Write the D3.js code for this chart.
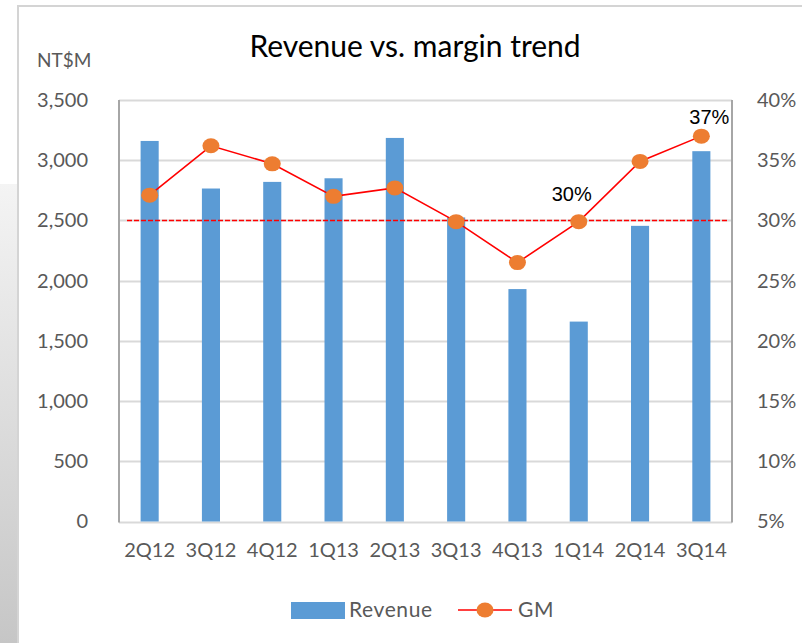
<!DOCTYPE html>
<html>
<head>
<meta charset="utf-8">
<script src="https://cdn.jsdelivr.net/npm/d3@7"></script>
<style>
  body { margin: 0; background: #fff; }
  svg { display: block; font-family: Lato, "Open Sans", sans-serif; }
</style>
</head>
<body>
<div id="main-chart"></div>
<script>
const quarters = ["2Q12", "3Q12", "4Q12", "1Q13", "2Q13", "3Q13", "4Q13", "1Q14", "2Q14", "3Q14"];
const revenue = [3160, 2765, 2820, 2850, 3185, 2525, 1930, 1660, 2455, 3075];
const gm = [32.1, 36.2, 34.7, 32.0, 32.7, 29.9, 26.5, 29.9, 34.9, 37.0];
const revTicks = [0, 500, 1000, 1500, 2000, 2500, 3000, 3500];
const gmTicks = [5, 10, 15, 20, 25, 30, 35, 40];
const gmLabels = [{ i: 7, text: "30%" }, { i: 9, text: "37%" }];
const gmTarget = 30;

const width = 802, height = 643;
const margin = { top: 100, right: 70, bottom: 121, left: 119 };

const svg = d3.select("#main-chart")
    .append("svg")
    .attr("width", width)
    .attr("height", height);

// grey strip on the left and chart frame
const grad = svg.append("defs").append("linearGradient")
    .attr("id", "strip").attr("x1", 0).attr("x2", 0).attr("y1", 0).attr("y2", 1);
grad.append("stop").attr("offset", "0%").attr("stop-color", "#f4f4f4");
grad.append("stop").attr("offset", "100%").attr("stop-color", "#c6c6c6");
svg.append("rect").attr("x", 0).attr("y", 184).attr("width", 17).attr("height", height - 184)
    .attr("fill", "url(#strip)");
svg.append("path")
    .attr("d", `M18,${height} V6 H${width}`)
    .attr("fill", "none").attr("stroke", "#d4d4d4").attr("stroke-width", 2);

const x = d3.scaleBand()
    .domain(quarters)
    .range([margin.left, width - margin.right])
    .paddingInner(0.705)
    .paddingOuter(0.3525);

const y = d3.scaleLinear().domain([0, 3500]).range([height - margin.bottom - 0.5, margin.top]);
const y2 = d3.scaleLinear().domain([5, 40]).range([height - margin.bottom - 0.5, margin.top]);

// gridlines
svg.append("g")
    .selectAll("line")
    .data(revTicks)
    .join("line")
    .attr("x1", margin.left).attr("x2", width - margin.right)
    .attr("y1", d => Math.round(y(d)) + 0.5).attr("y2", d => Math.round(y(d)) + 0.5)
    .attr("stroke", "#d9d9d9").attr("stroke-width", 2);

// axis lines
svg.append("line")
    .attr("x1", margin.left).attr("x2", margin.left)
    .attr("y1", margin.top).attr("y2", y(0) + 1)
    .attr("stroke", "#a6a6a6").attr("stroke-width", 2);
svg.append("line")
    .attr("x1", width - margin.right).attr("x2", width - margin.right)
    .attr("y1", margin.top).attr("y2", y(0) + 1)
    .attr("stroke", "#a6a6a6").attr("stroke-width", 2);

// axes
const leftAxis = svg.append("g")
    .attr("transform", `translate(${margin.left - 31},0)`)
    .call(d3.axisLeft(y).tickValues(revTicks).tickSize(0).tickPadding(0).tickFormat(d3.format(",")));
const rightAxis = svg.append("g")
    .attr("transform", `translate(${width - margin.right + 25},0)`)
    .call(d3.axisRight(y2).tickValues(gmTicks).tickSize(0).tickPadding(0).tickFormat(d => d + "%"));
const bottomAxis = svg.append("g")
    .attr("transform", `translate(0,${y(0) + 21})`)
    .call(d3.axisBottom(x).tickSize(0).tickPadding(0));
[leftAxis, rightAxis, bottomAxis].forEach(g => {
    g.select(".domain").remove();
    g.selectAll("text")
        .attr("fill", "#595959")
        .style("font-size", "20px")
        .style("font-family", "Lato, 'Open Sans', sans-serif");
});
bottomAxis.selectAll("text").attr("dy", "0.71em");

// bars
svg.append("g")
    .selectAll("rect")
    .data(revenue)
    .join("rect")
    .attr("x", (d, i) => x(quarters[i]))
    .attr("y", d => y(d))
    .attr("width", x.bandwidth())
    .attr("height", d => y(0) - y(d))
    .attr("fill", "#5b9bd5");

// target line
svg.append("line")
    .attr("x1", margin.left + 8).attr("x2", width - margin.right - 4)
    .attr("y1", y2(gmTarget)).attr("y2", y2(gmTarget))
    .attr("stroke", "#ff0000").attr("stroke-width", 1.6)
    .attr("stroke-dasharray", "5,2");

// GM line and markers
const cx = i => x(quarters[i]) + x.bandwidth() / 2;
const line = d3.line().x((d, i) => cx(i)).y(d => y2(d));
svg.append("path")
    .datum(gm)
    .attr("d", line)
    .attr("fill", "none")
    .attr("stroke", "#ff0000")
    .attr("stroke-width", 1.6);
svg.append("g")
    .selectAll("ellipse")
    .data(gm)
    .join("ellipse")
    .attr("cx", (d, i) => cx(i))
    .attr("cy", d => y2(d))
    .attr("rx", 8.5).attr("ry", 7.5)
    .attr("fill", "#ed7d31");

// data labels (second one sits tighter to its marker, as in the original)
const labelShift = { 7: [-7, -21], 9: [8, -12] };
svg.append("g")
    .selectAll("text")
    .data(gmLabels)
    .join("text")
    .attr("x", d => cx(d.i) + labelShift[d.i][0])
    .attr("y", d => y2(gm[d.i]) + labelShift[d.i][1])
    .attr("text-anchor", "middle")
    .style("font-family", "'Liberation Sans', Arial, sans-serif")
    .style("font-size", "20px")
    .attr("fill", "#000")
    .text(d => d.text);

// title and unit label
svg.append("text")
    .attr("x", 415).attr("y", 57)
    .attr("text-anchor", "middle")
    .style("font-size", "30px")
    .attr("fill", "#000")
    .text("Revenue vs. margin trend");
svg.append("text")
    .attr("x", 37).attr("y", 67)
    .style("font-size", "19px")
    .attr("fill", "#595959")
    .text("NT$M");

// legend
const legend = svg.append("g").attr("transform", "translate(0,610)");
legend.append("rect").attr("x", 291).attr("y", -8).attr("width", 54).attr("height", 17).attr("fill", "#5b9bd5");
legend.append("text").attr("x", 349).attr("y", 0).attr("dy", "0.35em")
    .style("font-size", "21px").style("letter-spacing", "0.6px")
    .attr("fill", "#595959").text("Revenue");
legend.append("line").attr("x1", 458).attr("x2", 512).attr("y1", 0).attr("y2", 0)
    .attr("stroke", "#ff0000").attr("stroke-width", 1.6);
legend.append("ellipse").attr("cx", 485).attr("cy", 0).attr("rx", 8.5).attr("ry", 7.5).attr("fill", "#ed7d31");
legend.append("text").attr("x", 518).attr("y", 0).attr("dy", "0.35em")
    .style("font-size", "21px").style("letter-spacing", "0.6px")
    .attr("fill", "#595959").text("GM");
</script>
</body>
</html>
